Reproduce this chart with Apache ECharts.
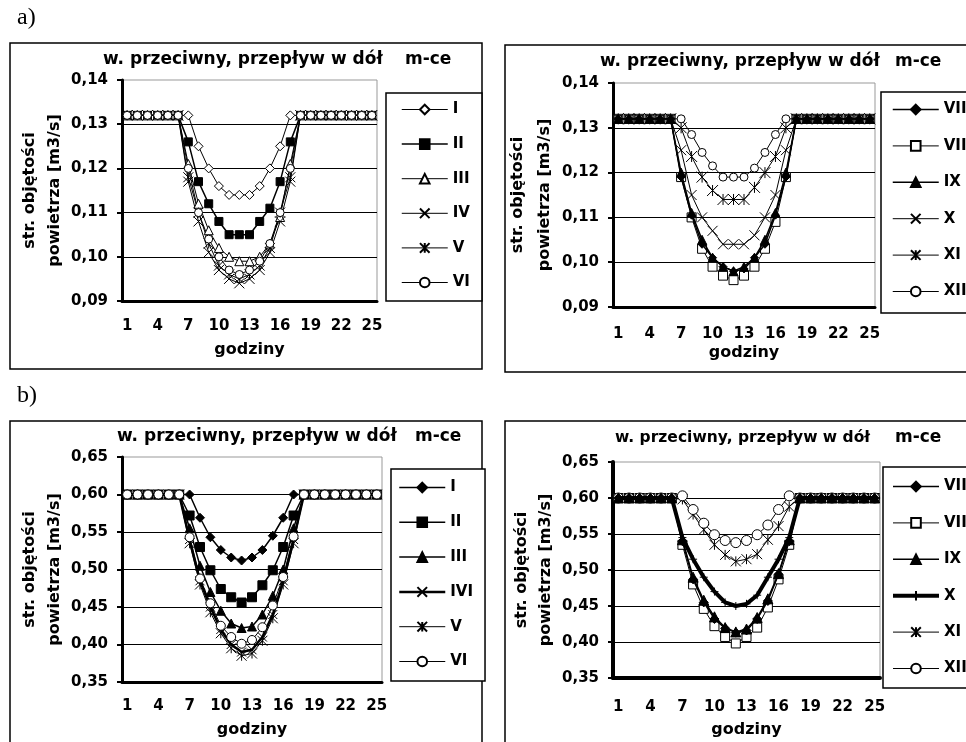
<!DOCTYPE html>
<html>
<head>
<meta charset="utf-8">
<script src="https://cdn.jsdelivr.net/npm/echarts@6/dist/echarts.min.js"></script>
<style>
html, body { margin: 0; padding: 0; background: #fff; }
#chart { width: 966px; height: 742px; }
</style>
</head>
<body>
<div id="chart"></div>
<script>
// godziny
const hours = ['1', '2', '3', '4', '5', '6', '7', '8', '9', '10', '11', '12', '13',
  '14', '15', '16', '17', '18', '19', '20', '21', '22', '23', '24', '25']

const monthsA = ['I', 'II', 'III', 'IV', 'V', 'VI']
const monthsB = ['VII', 'VIII', 'IX', 'X', 'XI', 'XII']
const monthsC = ['I', 'II', 'III', 'IVI', 'V', 'VI']

// a) lewy
const aI = [0.132, 0.132, 0.132, 0.132, 0.132, 0.132, 0.132, 0.125, 0.120, 0.116, 0.114, 0.114, 0.114, 0.116, 0.120, 0.125, 0.132, 0.132, 0.132, 0.132, 0.132, 0.132, 0.132, 0.132, 0.132]
const aII = [0.132, 0.132, 0.132, 0.132, 0.132, 0.132, 0.126, 0.117, 0.112, 0.108, 0.105, 0.105, 0.105, 0.108, 0.111, 0.117, 0.126, 0.132, 0.132, 0.132, 0.132, 0.132, 0.132, 0.132, 0.132]
const aIII = [0.132, 0.132, 0.132, 0.132, 0.132, 0.132, 0.121, 0.112, 0.106, 0.102, 0.100, 0.099, 0.099, 0.100, 0.103, 0.109, 0.121, 0.132, 0.132, 0.132, 0.132, 0.132, 0.132, 0.132, 0.132]
const aIV = [0.132, 0.132, 0.132, 0.132, 0.132, 0.132, 0.117, 0.108, 0.101, 0.097, 0.095, 0.094, 0.095, 0.097, 0.101, 0.108, 0.117, 0.132, 0.132, 0.132, 0.132, 0.132, 0.132, 0.132, 0.132]
const aV = [0.132, 0.132, 0.132, 0.132, 0.132, 0.132, 0.118, 0.110, 0.103, 0.098, 0.096, 0.095, 0.096, 0.098, 0.102, 0.110, 0.118, 0.132, 0.132, 0.132, 0.132, 0.132, 0.132, 0.132, 0.132]
const aVI = [0.132, 0.132, 0.132, 0.132, 0.132, 0.132, 0.120, 0.110, 0.104, 0.100, 0.097, 0.096, 0.097, 0.099, 0.103, 0.110, 0.120, 0.132, 0.132, 0.132, 0.132, 0.132, 0.132, 0.132, 0.132]

// a) prawy
const aVII = [0.132, 0.132, 0.132, 0.132, 0.132, 0.132, 0.119, 0.1105, 0.104, 0.101, 0.099, 0.098, 0.0985, 0.101, 0.104, 0.1105, 0.119, 0.132, 0.132, 0.132, 0.132, 0.132, 0.132, 0.132, 0.132]
const aVIII = [0.132, 0.132, 0.132, 0.132, 0.132, 0.132, 0.119, 0.110, 0.103, 0.099, 0.097, 0.096, 0.097, 0.099, 0.103, 0.109, 0.119, 0.132, 0.132, 0.132, 0.132, 0.132, 0.132, 0.132, 0.132]
const aIX = [0.132, 0.132, 0.132, 0.132, 0.132, 0.132, 0.120, 0.111, 0.105, 0.101, 0.099, 0.098, 0.099, 0.101, 0.105, 0.111, 0.120, 0.132, 0.132, 0.132, 0.132, 0.132, 0.132, 0.132, 0.132]
const aX = [0.132, 0.132, 0.132, 0.132, 0.132, 0.132, 0.125, 0.115, 0.110, 0.107, 0.104, 0.104, 0.104, 0.106, 0.110, 0.115, 0.125, 0.132, 0.132, 0.132, 0.132, 0.132, 0.132, 0.132, 0.132]
const aXI = [0.132, 0.132, 0.132, 0.132, 0.132, 0.132, 0.130, 0.1236, 0.119, 0.116, 0.114, 0.114, 0.114, 0.1167, 0.120, 0.1236, 0.130, 0.132, 0.132, 0.132, 0.132, 0.132, 0.132, 0.132, 0.132]
const aXII = [0.132, 0.132, 0.132, 0.132, 0.132, 0.132, 0.132, 0.1285, 0.1245, 0.1215, 0.119, 0.119, 0.119, 0.121, 0.1245, 0.1285, 0.132, 0.132, 0.132, 0.132, 0.132, 0.132, 0.132, 0.132, 0.132]

// b) lewy
const bI = [0.60, 0.60, 0.60, 0.60, 0.60, 0.60, 0.60, 0.569, 0.543, 0.526, 0.516, 0.512, 0.516, 0.526, 0.545, 0.569, 0.60, 0.60, 0.60, 0.60, 0.60, 0.60, 0.60, 0.60, 0.60]
const bII = [0.60, 0.60, 0.60, 0.60, 0.60, 0.60, 0.572, 0.530, 0.499, 0.474, 0.463, 0.456, 0.463, 0.479, 0.499, 0.530, 0.572, 0.60, 0.60, 0.60, 0.60, 0.60, 0.60, 0.60, 0.60]
const bIII = [0.60, 0.60, 0.60, 0.60, 0.60, 0.60, 0.555, 0.505, 0.470, 0.445, 0.428, 0.422, 0.424, 0.440, 0.465, 0.500, 0.555, 0.60, 0.60, 0.60, 0.60, 0.60, 0.60, 0.60, 0.60]
const bIVI = [0.60, 0.60, 0.60, 0.60, 0.60, 0.60, 0.540, 0.485, 0.450, 0.420, 0.400, 0.390, 0.393, 0.410, 0.440, 0.485, 0.540, 0.60, 0.60, 0.60, 0.60, 0.60, 0.60, 0.60, 0.60]
const bV = [0.60, 0.60, 0.60, 0.60, 0.60, 0.60, 0.535, 0.480, 0.443, 0.415, 0.395, 0.385, 0.388, 0.405, 0.435, 0.480, 0.535, 0.60, 0.60, 0.60, 0.60, 0.60, 0.60, 0.60, 0.60]
const bVI = [0.60, 0.60, 0.60, 0.60, 0.60, 0.60, 0.543, 0.488, 0.455, 0.425, 0.410, 0.401, 0.406, 0.423, 0.452, 0.490, 0.544, 0.60, 0.60, 0.60, 0.60, 0.60, 0.60, 0.60, 0.60]

// b) prawy
const bVII = [0.60, 0.60, 0.60, 0.60, 0.60, 0.60, 0.540, 0.487, 0.455, 0.432, 0.419, 0.413, 0.416, 0.432, 0.457, 0.494, 0.540, 0.60, 0.60, 0.60, 0.60, 0.60, 0.60, 0.60, 0.60]
const bVIII = [0.60, 0.60, 0.60, 0.60, 0.60, 0.60, 0.535, 0.480, 0.446, 0.422, 0.407, 0.398, 0.407, 0.420, 0.448, 0.487, 0.535, 0.60, 0.60, 0.60, 0.60, 0.60, 0.60, 0.60, 0.60]
const bIX = [0.60, 0.60, 0.60, 0.60, 0.60, 0.60, 0.542, 0.490, 0.458, 0.435, 0.420, 0.414, 0.418, 0.434, 0.460, 0.495, 0.542, 0.60, 0.60, 0.60, 0.60, 0.60, 0.60, 0.60, 0.60]
const bX = [0.60, 0.60, 0.60, 0.60, 0.60, 0.60, 0.545, 0.515, 0.490, 0.470, 0.455, 0.450, 0.453, 0.465, 0.490, 0.515, 0.545, 0.60, 0.60, 0.60, 0.60, 0.60, 0.60, 0.60, 0.60]
const bXI = [0.60, 0.60, 0.60, 0.60, 0.60, 0.60, 0.598, 0.577, 0.556, 0.535, 0.521, 0.512, 0.515, 0.522, 0.542, 0.561, 0.588, 0.60, 0.60, 0.60, 0.60, 0.60, 0.60, 0.60, 0.60]
const bXII = [0.60, 0.60, 0.60, 0.60, 0.60, 0.60, 0.603, 0.584, 0.565, 0.549, 0.541, 0.538, 0.541, 0.549, 0.5625, 0.584, 0.603, 0.60, 0.60, 0.60, 0.60, 0.60, 0.60, 0.60, 0.60]

const FONT = 'DejaVu Sans'
const X_MARK = 'path://M0,0L10,10M10,0L0,10'
const STAR_MARK = 'path://M0,0L10,10M10,0L0,10M5,0L5,10'
const PLUS_MARK = 'path://M5,0L5,10M0,5L10,5'

// [symbol, size, fill, lineWidth, z]
const styleA = [['diamond', 9, '#fff', 1, 2], ['rect', 8, '#000', 1.5, 2], ['triangle', 9, '#fff', 1, 2], [X_MARK, 10, '#000', 1, 2], [STAR_MARK, 10, '#000', 1, 2], ['circle', 8, '#fff', 1, 2]]
const styleB = [['diamond', 8, '#000', 1.5, 4], ['rect', 9, '#fff', 1, 2], ['triangle', 9, '#000', 1.5, 4], [X_MARK, 10, '#000', 1, 2], [STAR_MARK, 11, '#000', 1, 2], ['circle', 8, '#fff', 1, 2]]
const styleC = [['diamond', 9, '#000', 1.5, 2], ['rect', 9, '#000', 1.5, 2], ['triangle', 9, '#000', 1.5, 2], [X_MARK, 9, '#000', 2.5, 2], [STAR_MARK, 10, '#000', 1, 2], ['circle', 9, '#fff', 1, 2]]
const styleD = [['diamond', 9, '#000', 1.5, 4], ['rect', 9, '#fff', 1, 2], ['triangle', 10, '#000', 1.5, 4], [PLUS_MARK, 8, '#000', 4, 3], [STAR_MARK, 10, '#000', 1, 2], ['circle', 10, '#fff', 1, 2]]

// series names get a panel prefix so the four legends don't mix up
const tag = (gi, name) => gi + '|' + name

const makeSeries = function (gi, names, datas, styles) {
  return names.map((name, i) => {
    const [symbol, size, fill, lw, z] = styles[i]
    return {
      type: 'line',
      name: tag(gi, name),
      xAxisIndex: gi,
      yAxisIndex: gi,
      z: z,
      data: datas[i],
      symbol: symbol,
      symbolSize: size,
      showAllSymbol: true,
      animation: false,
      lineStyle: {color: '#000', width: lw},
      itemStyle: {color: fill, borderColor: '#000', borderWidth: 1},
      emphasis: {disabled: true},
    }
  })
}

const makeX = function (gi, labelMargin, nameGap, axisWidth) {
  return {
    type: 'category',
    gridIndex: gi,
    data: hours,
    boundaryGap: true,
    name: 'godziny',
    nameLocation: 'middle',
    nameGap: nameGap,
    nameTextStyle: {fontFamily: FONT, fontWeight: 'bold', fontSize: 16, color: '#000'},
    axisLine: {lineStyle: {color: '#000', width: axisWidth}},
    axisTick: {interval: 2, length: 5, lineStyle: {color: '#000', width: 2}},
    axisLabel: {interval: 2, margin: labelMargin, fontFamily: FONT, fontWeight: 'bold', fontSize: 15, color: '#000'},
    splitLine: {show: false},
  }
}

const makeY = function (gi, min, max, step, nameGap, lineHeight, axisWidth) {
  return {
    type: 'value',
    gridIndex: gi,
    min: min,
    max: max,
    interval: step,
    name: 'str. objętości\npowietrza [m3/s]',
    nameLocation: 'middle',
    nameRotate: 90,
    nameGap: nameGap,
    nameTextStyle: {fontFamily: FONT, fontWeight: 'bold', fontSize: 16, color: '#000', lineHeight: lineHeight},
    axisLine: {show: true, lineStyle: {color: '#000', width: axisWidth}},
    axisTick: {show: true, length: 5, lineStyle: {color: '#000', width: 2}},
    axisLabel: {
      margin: 14, fontFamily: FONT, fontWeight: 'bold', fontSize: 15, color: '#000',
      formatter: v => v.toFixed(2).replace('.', ',')
    },
    splitLine: {show: true, showMaxLine: false, lineStyle: {color: '#000', width: 1}},
  }
}

// legend lines keep the series line width (thick ones in b)
const makeLegend = function (gi, names, styles, left, top, gap, padding) {
  return {
    data: names.map((n, i) => ({name: tag(gi, n), lineStyle: {width: styles[i][3]}})),
    formatter: name => name.split('|')[1],
    orient: 'vertical',
    left: left,
    top: top,
    itemWidth: 46,
    itemHeight: 12,
    itemGap: gap,
    padding: padding,
    borderColor: '#000',
    borderWidth: 1.5,
    backgroundColor: '#fff',
    selectedMode: false,
    textStyle: {fontFamily: FONT, fontWeight: 'bold', fontSize: 15, color: '#000', lineHeight: 12},
  }
}

const box = (x, y, w, h) => ({type: 'rect', shape: {x: x, y: y, width: w, height: h}, style: {fill: 'none', stroke: '#000', lineWidth: 1.5}, silent: true})
const txt = (x, y, text, font) => ({type: 'text', x: x, y: y, style: {text: text, font: font, fill: '#000', verticalAlign: 'middle'}, silent: true})

const chart = echarts.init(document.getElementById('chart'), null, {renderer: 'canvas'})

chart.setOption({
  animation: false,
  backgroundColor: '#fff',
  grid: [
    {left: 122, top: 80, width: 255, height: 221, show: true, borderColor: '#999', borderWidth: 1},
    {left: 613, top: 83, width: 262, height: 224, show: true, borderColor: '#999', borderWidth: 1},
    {left: 122, top: 457, width: 260, height: 225, show: true, borderColor: '#999', borderWidth: 1},
    {left: 613, top: 462, width: 267, height: 216, show: true, borderColor: '#999', borderWidth: 1},
  ],
  xAxis: [
    makeX(0, 18, 41, 3),
    makeX(1, 20, 38, 3),
    makeX(2, 17, 40, 3),
    makeX(3, 22, 44, 4),
  ],
  yAxis: [
    makeY(0, 0.09, 0.14, 0.01, 52, 25, 3),
    makeY(1, 0.09, 0.14, 0.01, 50, 27, 3),
    makeY(2, 0.35, 0.65, 0.05, 51, 25, 3),
    makeY(3, 0.35, 0.65, 0.05, 54, 24, 4),
  ],
  legend: [
    makeLegend(0, monthsA, styleA, 386, 93, 19.6, [9, 12, 11, 15]),
    makeLegend(1, monthsB, styleB, 881, 92, 21.4, [10, 12, 14, 11]),
    makeLegend(2, monthsC, styleC, 391, 469, 19.8, [11, 12, 12, 7]),
    makeLegend(3, monthsB, styleD, 883, 467, 21.4, [12, 12, 12, 8]),
  ],
  graphic: [
    box(10, 43, 472, 326),
    box(505, 45, 480, 327),
    box(10, 421, 472, 330),
    box(505, 421, 480, 330),
    txt(17, 18, 'a)', '24px "Liberation Serif"'),
    txt(17, 396, 'b)', '24px "Liberation Serif"'),
    txt(103, 60, 'w. przeciwny, przepływ w dół', 'bold 17px "DejaVu Sans"'),
    txt(405, 60, 'm-ce', 'bold 17px "DejaVu Sans"'),
    txt(600, 62, 'w. przeciwny, przepływ w dół', 'bold 17px "DejaVu Sans"'),
    txt(895, 62, 'm-ce', 'bold 17px "DejaVu Sans"'),
    txt(117, 437, 'w. przeciwny, przepływ w dół', 'bold 17px "DejaVu Sans"'),
    txt(415, 437, 'm-ce', 'bold 17px "DejaVu Sans"'),
    txt(615, 438, 'w. przeciwny, przepływ w dół', 'bold 15.5px "DejaVu Sans"'),
    txt(895, 438, 'm-ce', 'bold 17px "DejaVu Sans"'),
  ],
  series: [
    ...makeSeries(0, monthsA, [aI, aII, aIII, aIV, aV, aVI], styleA),
    ...makeSeries(1, monthsB, [aVII, aVIII, aIX, aX, aXI, aXII], styleB),
    ...makeSeries(2, monthsC, [bI, bII, bIII, bIVI, bV, bVI], styleC),
    ...makeSeries(3, monthsB, [bVII, bVIII, bIX, bX, bXI, bXII], styleD),
  ],
})
</script>
</body>
</html>
